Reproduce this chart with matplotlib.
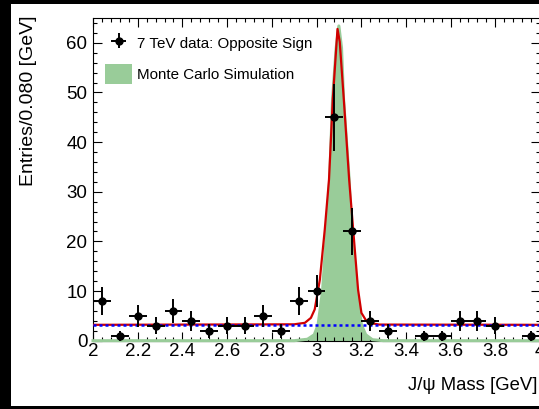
import numpy as np
import matplotlib.pyplot as plt
from matplotlib.patches import Rectangle, Patch
from matplotlib.ticker import MultipleLocator

plt.rcParams['font.family'] = ['Liberation Sans', 'DejaVu Sans']

# _____________________________________
# Values

# 7 TeV data, opposite sign, 0.080 GeV bins (empty bins are not drawn)
mass = [2.04, 2.12, 2.20, 2.28, 2.36, 2.44, 2.52, 2.60, 2.68, 2.76, 2.84, 2.92,
        3.00, 3.08, 3.16, 3.24, 3.32, 3.48, 3.56, 3.64, 3.72, 3.80, 3.96]
entries = [8, 1, 5, 3, 6, 4, 2, 3, 3, 5, 2, 8,
           10, 45, 22, 4, 2, 1, 1, 4, 4, 3, 1]
half_bin = 0.04

# Monte Carlo shape
mc_mass = [2.0, 2.90, 2.96, 2.99, 3.007, 3.027, 3.042, 3.059, 3.072, 3.088, 3.10,
           3.112, 3.121, 3.146, 3.159, 3.179, 3.201, 3.22, 3.25, 3.30, 4.0]
mc_entries = [0, 0, 0.3, 1.2, 3.2, 10, 20, 32.5, 48.7, 59, 63.4,
              59, 48.7, 32.5, 20, 10, 3.2, 1.2, 0.2, 0, 0]

# fit: signal + flat background
fit_mass = [2.0, 2.90, 2.948, 2.975, 2.992, 3.015, 3.037, 3.056, 3.073, 3.094, 3.104,
            3.122, 3.146, 3.164, 3.186, 3.201, 3.22, 3.238, 3.28, 4.0]
fit_entries = [3.2, 3.3, 3.6, 4.6, 6.3, 12.3, 22.4, 32.5, 48.7, 62.8, 60.2,
               48.7, 32.5, 22.4, 10.3, 5.6, 4.2, 3.6, 3.25, 3.2]

# background only
bkg_mass = [2.0, 4.0]
bkg_entries = [3.2, 3.2]

# _____________________________________
# Figure

green = '#99cc99'
red = '#d00000'
blue = '#0000ff'

fig = plt.figure(figsize=(5.39, 4.09), dpi=100)
fig.patch.set_facecolor('black')
fig.add_artist(Rectangle((11/539, 3/409), 1 - 11/539, 402/409,
                         transform=fig.transFigure, facecolor='white',
                         edgecolor='none', zorder=-10))

ax = fig.add_axes([93/539, 68.3/409, 447/539, 322.7/409])

ax.fill_between(mc_mass, mc_entries, color=green, lw=0, zorder=1)
ax.plot(mc_mass, mc_entries, color=green, lw=2.2, clip_on=False, zorder=2.6)

ax.plot(fit_mass, fit_entries, color=red, lw=1.6, zorder=3)
ax.plot(bkg_mass, bkg_entries, color=blue, lw=1.8, ls=(0, (1.2, 1.2)), zorder=3.1)

eb = ax.errorbar(mass, entries, xerr=half_bin, yerr=np.sqrt(entries), fmt='o',
                 color='black', ms=5, elinewidth=1.4, capsize=0, zorder=5)

ax.set_xlim(2, 4)
ax.set_ylim(0, 65)

ax.xaxis.set_minor_locator(MultipleLocator(0.04))
ax.yaxis.set_major_locator(MultipleLocator(10))
ax.yaxis.set_minor_locator(MultipleLocator(2))
ax.set_xticks([2, 2.2, 2.4, 2.6, 2.8, 3, 3.2, 3.4, 3.6, 3.8, 4])
ax.set_xticklabels(['2', '2.2', '2.4', '2.6', '2.8', '3', '3.2', '3.4', '3.6', '3.8', '4'])

ax.tick_params(which='both', direction='in', top=True, right=True, width=0.8,
               labelsize=13.5)
ax.tick_params(which='major', length=6.5)
ax.tick_params(which='minor', length=3.2)
ax.tick_params(axis='x', pad=2)
ax.tick_params(axis='y', pad=4)
for s in ax.spines.values():
    s.set_linewidth(0.8)

fig.text(28.5/539, 1 - 15/409, 'Entries/0.080 [GeV]', rotation=90,
         ha='center', va='top', fontsize=14)
fig.text(538/539, 1 - 386/409, 'J/\u03c8 Mass [GeV]', ha='right', va='center',
         fontsize=13.3)

ax.legend([eb, Patch(facecolor=green, edgecolor='none')],
          ['7 TeV data: Opposite Sign', 'Monte Carlo Simulation'],
          loc='upper left', bbox_to_anchor=(0.0268, 0.9526), frameon=False,
          fontsize=10.9, borderpad=0, borderaxespad=0, handlelength=1.79,
          handleheight=1.66, handletextpad=0.33, labelspacing=0.73)

fig.savefig('out.png', dpi=100, facecolor=fig.get_facecolor())
